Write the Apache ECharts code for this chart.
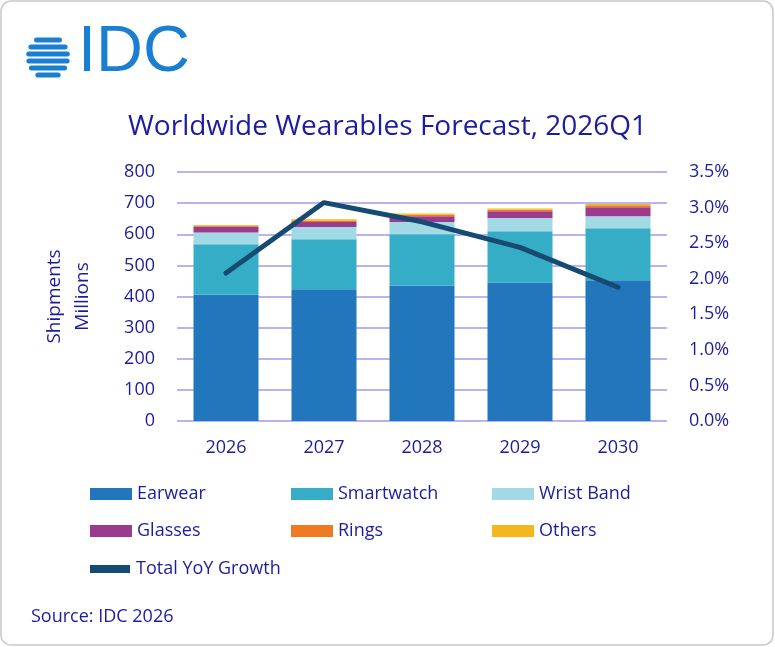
<!DOCTYPE html>
<html><head><meta charset="utf-8">
<script src="https://cdn.jsdelivr.net/npm/echarts@6/dist/echarts.min.js"></script>
<style>html,body{margin:0;background:#fff}#c{width:775px;height:647px}</style>
</head><body><div id="c"></div>
<script>
const years = ["2026", "2027", "2028", "2029", "2030"];
const earwear = [406, 423, 435, 445, 452];
const smartwatch = [162, 161, 165, 165, 167];
const wristBand = [38, 39, 39, 42, 39];
const glasses = [18, 16, 19, 22, 29];
const rings = [3, 5, 5, 5, 6];
const others = [3, 4, 4, 4, 4];
const yoyGrowth = [2.08, 3.07, 2.80, 2.44, 1.88];

const NAVY = "#1c1ca0";
const font = "'Open Sans', sans-serif";
const chart = echarts.init(document.getElementById("c"));

const bar = (name, data, color) => ({
  name, type: "bar", stack: "s", data, barWidth: 65,
  itemStyle: { color }
});

const stripes = [];
const cx = 48, cy = 57, r = 22;
[-17, -10, -3, 4, 11, 18].forEach(dy => {
  const hw = Math.sqrt(Math.max(0, r * r - dy * dy));
  stripes.push({ type: "rect", shape: { x: cx - hw, y: cy + dy - 2.5, width: hw * 2, height: 5, r: 2.5 }, style: { fill: "#1a7fd0" } });
});

const legendItem = (name, left, top, extra) => Object.assign({
  data: [name], left, top, itemWidth: 42, itemHeight: 12, icon: "rect", itemGap: 8,
  textStyle: { color: NAVY, fontSize: 18 }
}, extra || {});

chart.setOption({
  textStyle: { fontFamily: font },
  graphic: [
    { type: "rect", shape: { x: 1, y: 1, width: 772, height: 644, r: 10 }, style: { fill: "none", stroke: "#c8c8c8", lineWidth: 1.5 } },
    ...stripes,
    { type: "text", left: 78, top: 21, style: { text: "IDC", fill: "#1a7fd0", font: "65px 'Liberation Sans', sans-serif" } },
    { type: "text", left: 31, top: 608, style: { text: "Source: IDC 2026", fill: NAVY, font: "18px " + font } }
  ],
  title: { text: "Worldwide Wearables Forecast, 2026Q1", left: "center", top: 108,
    textStyle: { color: NAVY, fontSize: 28, fontWeight: "normal", fontFamily: font } },
  grid: { left: 177, right: 108, top: 172, bottom: 226 },
  legend: [
    legendItem("Earwear", 85, 480),
    legendItem("Smartwatch", 286, 480),
    legendItem("Wrist Band", 487, 480),
    legendItem("Glasses", 85, 517),
    legendItem("Rings", 286, 517),
    legendItem("Others", 487, 517),
    legendItem({ name: "Total YoY Growth", icon: "path://M0,0H10V2H0Z" }, 85, 555, { itemHeight: 8 })
  ],
  xAxis: { type: "category", data: years, axisLine: { show: false }, axisTick: { show: false },
    axisLabel: { color: NAVY, fontSize: 18, margin: 18 } },
  yAxis: [
    { type: "value", min: 0, max: 800, interval: 100, name: "Shipments\nMillions", nameLocation: "middle", nameGap: 80,
      nameTextStyle: { color: NAVY, fontSize: 19, lineHeight: 28 },
      axisLabel: { color: NAVY, fontSize: 18, margin: 22 }, splitLine: { lineStyle: { color: "#b8b4f4", width: 2 } } },
    { type: "value", min: 0, max: 3.5, interval: 0.5, splitLine: { show: false },
      axisLabel: { color: NAVY, fontSize: 18, margin: 22, formatter: v => v.toFixed(1) + "%" } }
  ],
  series: [
    bar("Earwear", earwear, "#2277bc"),
    bar("Smartwatch", smartwatch, "#36adc7"),
    bar("Wrist Band", wristBand, "#a1dae4"),
    bar("Glasses", glasses, "#9a3b8f"),
    bar("Rings", rings, "#f07a22"),
    bar("Others", others, "#f2b81d"),
    { name: "Total YoY Growth", type: "line", yAxisIndex: 1, data: yoyGrowth, symbol: "none",
      lineStyle: { color: "#164a72", width: 5, cap: "round" }, itemStyle: { color: "#164a72" } }
  ]
});
</script></body></html>
